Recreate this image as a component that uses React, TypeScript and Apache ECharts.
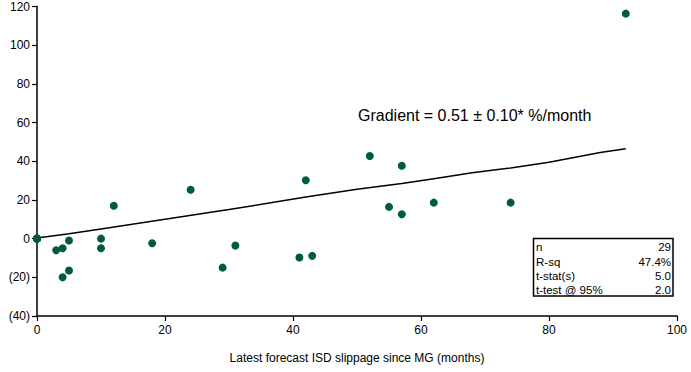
import React, { useEffect, useRef } from "react";
import * as echarts from "echarts";

const slippageMonths = [0, 0, 0, 0, 0, 0, 0, 3, 4, 5, 4, 5, 10, 10, 12, 18, 24, 29, 31, 42, 41, 43, 52, 57, 55, 57, 62, 74, 92];
const costGrowthPct = [0, 0, 0, 0, 0, 0, 0, -6, -5, -1, -20, -16.5, 0, -5, 17, -2.4, 25.3, -15, -3.6, 30.2, -9.8, -8.9, 42.7, 37.7, 16.4, 12.6, 18.6, 18.6, 116.3];

const trendX = [0, 5, 10, 20, 30, 42, 50, 57, 62, 68, 74, 80, 88, 92];
const trendY = [0.3, 2.5, 5, 10, 15, 21.5, 25.5, 28.5, 31, 34, 36.5, 39.5, 44.5, 46.5];

const statLabels = ["n", "R-sq", "t-stat(s)", "t-test @ 95%"];
const statValues = ["29", "47.4%", "5.0", "2.0"];
const gradientText = "Gradient = 0.51 \u00B1 0.10* %/month";
const xAxisTitle = "Latest forecast ISD slippage since MG (months)";

const FONT = "Liberation Sans, Arial, sans-serif";

export default function App() {
  const ref = useRef<HTMLDivElement>(null);
  useEffect(() => {
    if (!ref.current) return;
    const chart = echarts.init(ref.current, undefined, { renderer: "svg" });
    const rowH = 14.4;
    const tableTop = 238.5;
    const tableChildren: any[] = [
      {
        type: "rect",
        shape: { x: 533.5, y: tableTop, width: 139.5, height: 57.5 },
        style: { fill: "#fff", stroke: "#000", lineWidth: 1.5 },
      },
    ];
    statLabels.forEach((l, i) => {
      tableChildren.push({
        type: "text",
        x: 536,
        y: tableTop + 1.5 + i * rowH + rowH / 2,
        style: { text: l, font: `11.5px ${FONT}`, fill: "#000", textVerticalAlign: "middle", textAlign: "left" },
      });
      tableChildren.push({
        type: "text",
        x: 671,
        y: tableTop + 1.5 + i * rowH + rowH / 2,
        style: { text: statValues[i], font: `11.5px ${FONT}`, fill: "#000", textVerticalAlign: "middle", textAlign: "right" },
      });
    });
    chart.setOption({
      animation: false,
      backgroundColor: "#fff",
      textStyle: { fontFamily: FONT },
      grid: { left: 37, right: 14, top: 6.5, bottom: 56, containLabel: false },
      xAxis: {
        type: "value",
        min: 0,
        max: 100,
        interval: 20,
        name: xAxisTitle,
        nameLocation: "middle",
        nameGap: 36,
        nameTextStyle: { fontSize: 12, color: "#000", fontFamily: FONT },
        axisLine: { show: true, onZero: false, lineStyle: { color: "#000", width: 1.5 } },
        axisTick: { show: true, length: 5, lineStyle: { color: "#000", width: 1.2 } },
        axisLabel: { fontSize: 12, color: "#000", margin: 8, fontFamily: FONT },
        splitLine: { show: false },
      },
      yAxis: {
        type: "value",
        min: -40,
        max: 120,
        interval: 20,
        axisLine: { show: true, onZero: false, lineStyle: { color: "#000", width: 1.5 } },
        axisTick: { show: true, length: 5, lineStyle: { color: "#000", width: 1.2 } },
        axisLabel: {
          fontSize: 12,
          color: "#000",
          margin: 7,
          fontFamily: FONT,
          formatter: (v: number) => (v < 0 ? `(${Math.abs(v)})` : String(v)),
        },
        splitLine: { show: false },
      },
      series: [
        {
          type: "line",
          data: trendX.map((x, i) => [x, trendY[i]]),
          showSymbol: false,
          lineStyle: { color: "#000", width: 1.5 },
          z: 2,
        },
        {
          type: "scatter",
          data: slippageMonths.map((x, i) => [x, costGrowthPct[i]]),
          symbol: "circle",
          symbolSize: 8,
          itemStyle: { color: "#005C3D", opacity: 1 },
          z: 3,
        },
      ],
      graphic: [
        {
          type: "text",
          left: 358,
          top: 107,
          style: { text: gradientText, font: `16px ${FONT}`, fill: "#000" },
        },
        { type: "group", children: tableChildren },
      ],
    });
    return () => chart.dispose();
  }, []);
  return <div ref={ref} style={{ position: "absolute", left: 0, top: 0, width: 691, height: 372 }} />;
}
